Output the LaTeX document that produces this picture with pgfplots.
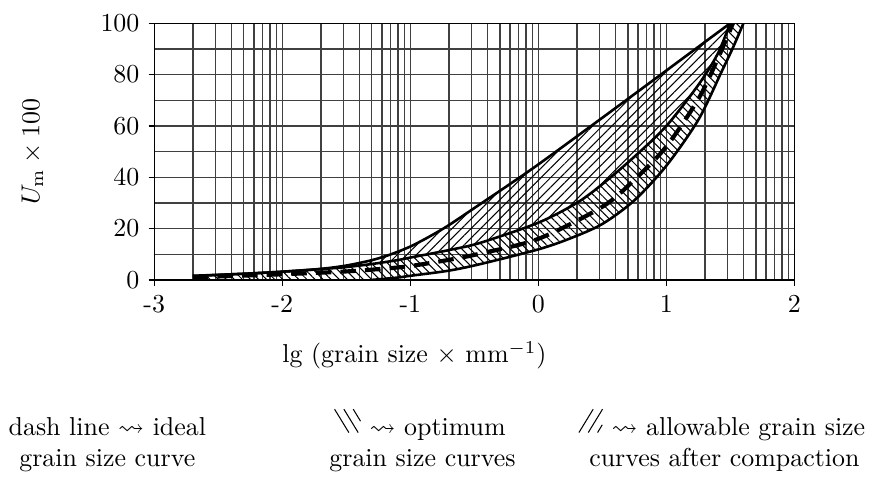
\documentclass[border=0pt]{standalone}
\usepackage{amssymb}
\usepackage{pgfplots}
\usepackage{pgfplotstable}
\pgfplotsset{compat=1.18}
\usepgfplotslibrary{fillbetween}
\usetikzlibrary{patterns,patterns.meta}

% x: lg(grain size / mm), y: passing fraction U_m x 100
\pgfplotstableread{
x y
-2.699 1.6
-2.3 2.4
-2.0 3.2
-1.7 4.3
-1.5 5.6
-1.3 7.7
-1.15 10.0
-1.0 13.0
-0.85 16.9
-0.7 21.3
-0.5 28.0
-0.25 36.4
0.0 45
0.5 63.2
1.0 81.6
1.498 100
}\upperallow

\pgfplotstableread{
x y
-2.699 1.5
-2.3 2.4
-2.0 3.2
-1.7 4.2
-1.5 5.0
-1.3 6.2
-1.1 7.7
-1.0 8.7
-0.7 11.6
-0.45 14.5
0.0 22.3
0.3 30
0.5 37.3
0.75 48
1.0 60
1.25 76
1.4 88
1.498 100
}\middlecurve

\pgfplotstableread{
x y
-2.699 0
-2.0 0
-1.301 0
-1.1 0.9
-1.0 1.6
-0.7 3.6
-0.45 6.2
0.0 11.9
0.25 16.2
0.5 21.8
0.75 31
1.0 44.5
1.25 62.4
1.43 81
1.52 90.5
1.602 100
}\lowercurve

\pgfplotstableread{
x y
-2.699 1.0
-2.0 2.2
-1.5 3.3
-1.2 4.4
-1.0 5.4
-0.7 7.8
-0.45 10.3
0.0 16
0.5 28.5
0.75 39
1.0 52
1.25 70.5
1.4 86
1.52 100
}\idealcurve

% small hatch keys
\newcommand{\optsym}{\tikz[baseline=-1.2pt,line width=0.4pt]{%
  \draw (0pt,9pt)--(5.5pt,0pt); \draw (3.6pt,9pt)--(9.1pt,0pt); \draw (7.2pt,9pt)--(10pt,4.4pt);}}
\newcommand{\allowsym}{\tikz[baseline=-1.2pt,line width=0.4pt]{%
  \draw (0pt,0pt)--(5.5pt,9pt); \draw (3.6pt,0pt)--(9.1pt,9pt); \draw (7.2pt,0pt)--(9pt,3pt);}}

\begin{document}
\begin{tikzpicture}
\begin{axis}[
  at={(0,0)}, anchor=south west,
  scale only axis,
  width=247pt, height=99pt,
  xmin=-3, xmax=2, ymin=0, ymax=100,
  xtick={-3,-2,-1,0,1,2},
  xticklabels={-3,-2,-1,0,1,2},
  minor xtick={-2.69897,-2.52288,-2.39794,-2.30103,-2.22185,-2.15490,-2.09691,-2.04576,
               -1.69897,-1.52288,-1.39794,-1.30103,-1.22185,-1.15490,-1.09691,-1.04576,
               -0.69897,-0.52288,-0.39794,-0.30103,-0.22185,-0.15490,-0.09691,-0.04576,
               0.30103,0.47712,0.60206,0.69897,0.77815,0.84510,0.90309,0.95424,
               1.30103,1.47712,1.60206,1.69897,1.77815,1.84510,1.90309,1.95424},
  ytick={0,20,...,100},
  minor ytick={10,30,...,90},
  grid=both,
  grid style={black!75, line width=0.55pt},
  major grid style={black!75, line width=0.55pt},
  minor grid style={black!75, line width=0.55pt},
  tick align=outside,
  major tick length=2.2pt,
  minor tick length=0pt,
  tick style={black, line width=0.5pt},
  axis line style={black, line width=0.55pt},
  xtick pos=bottom, ytick pos=left,
]
  \addplot[name path=upper, black, line width=1pt, smooth] table {\upperallow};
  \addplot[name path=middle, black, line width=1pt, smooth] table {\middlecurve};
  \addplot[name path=lower, draw=none, smooth] table {\lowercurve};
  \addplot[black, line width=1pt, smooth, restrict x to domain=-1.31:1.7] table {\lowercurve};
  \addplot[draw=none, pattern={Lines[angle=45, distance=2.6pt, line width=0.4pt]}]
    fill between[of=upper and middle];
  \addplot[draw=none, pattern={Lines[angle=-45, distance=2.2pt, line width=0.4pt]}]
    fill between[of=middle and lower];
  \addplot[black, line width=1.6pt, smooth, dash pattern=on 6pt off 3.5pt] table {\idealcurve};
\end{axis}

% overall frame of the figure
\path (-58.5pt,-76.7pt) rectangle (280.8pt,108pt);

% axis titles
\node[anchor=base] at (100.4pt,-32pt) {lg (grain size $\times$ mm$^{-1}$)};
\node[rotate=90] at (-47pt,49.5pt) {$U_\mathrm{m}\times 100$};

% key
\node[anchor=base] at (-18.1pt,-60.1pt) {dash line $\leadsto$ ideal};
\node[anchor=base] at (-18.1pt,-72pt) {grain size curve};
\node[anchor=base] at (102.5pt,-60.1pt) {\optsym\ $\leadsto$ optimum};
\node[anchor=base] at (103.5pt,-72pt) {grain size curves};
\node[anchor=base] at (219pt,-60.1pt) {\allowsym\ $\leadsto$ allowable grain size};
\node[anchor=base] at (220pt,-72pt) {curves after compaction};
\end{tikzpicture}
\end{document}
